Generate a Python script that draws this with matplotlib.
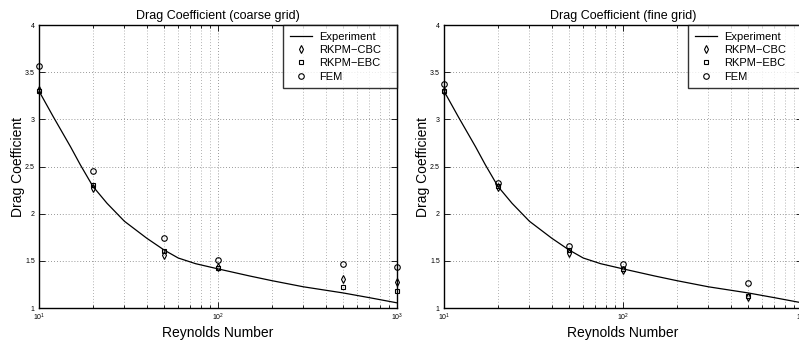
"""Drag coefficient vs Reynolds number, coarse and fine grid comparison."""

import matplotlib

matplotlib.use("Agg")
import matplotlib.pyplot as plt
from matplotlib.ticker import FuncFormatter, LogLocator, MultipleLocator

plt.rcParams["font.family"] = ["Liberation Sans", "DejaVu Sans"]

# experimental curve
re_experiment = [10, 12, 15, 17, 20, 24, 30, 40, 50, 60, 75, 100, 150, 200,
                 300, 500, 700, 1000]
cd_experiment = [3.30, 3.03, 2.71, 2.52, 2.29, 2.11, 1.92, 1.74, 1.615, 1.53,
                 1.47, 1.415, 1.34, 1.29, 1.225, 1.16, 1.11, 1.055]

# coarse grid results
re_coarse = [10, 20, 50, 100, 500, 1000]
coarse_cbc = [3.31, 2.27, 1.56, 1.43, 1.31, 1.28]
coarse_ebc = [3.30, 2.30, 1.60, 1.42, 1.22, 1.18]
coarse_fem = [3.57, 2.45, 1.74, 1.51, 1.47, 1.43]

# fine grid results
re_fine = [10, 20, 50, 100, 500]
fine_cbc = [3.30, 2.28, 1.58, 1.40, 1.12]
fine_ebc = [3.30, 2.29, 1.61, 1.41, 1.13]
fine_fem = [3.38, 2.33, 1.66, 1.47, 1.26]

MARKER_STYLE = dict(
    linestyle="none", markerfacecolor="none", markeredgecolor="black",
    markersize=4, markeredgewidth=0.8, clip_on=False, zorder=4,
)


def draw_panel(axis, re, cbc, ebc, fem, title):
    axis.plot(re_experiment, cd_experiment, color="black", linewidth=0.9,
              label="Experiment", zorder=3)
    axis.plot(re, cbc, marker="d", label="RKPM\u2212CBC", **MARKER_STYLE)
    axis.plot(re, ebc, marker="s", label="RKPM\u2212EBC",
              **{**MARKER_STYLE, "markersize": 3.5})
    axis.plot(re, fem, marker="o", label="FEM", **MARKER_STYLE)

    axis.set_xscale("log")
    axis.set_xlim(10, 1000)
    axis.set_ylim(1, 4)
    axis.yaxis.set_major_locator(MultipleLocator(0.5))
    axis.xaxis.set_major_locator(LogLocator(base=10))
    axis.xaxis.set_minor_locator(LogLocator(base=10, subs=range(2, 10)))
    axis.yaxis.set_major_formatter(FuncFormatter(lambda v, _: f"{v:g}"))

    axis.grid(True, which="major", linestyle=(0, (1, 2.5)), color="#777777",
              linewidth=0.6)
    axis.grid(True, which="minor", axis="x", linestyle=(0, (1, 2.5)),
              color="#999999", linewidth=0.6)
    axis.tick_params(which="both", direction="in", top=True, right=True,
                     labelsize=5, width=0.6, pad=3)
    axis.tick_params(which="major", length=4)
    axis.tick_params(which="minor", length=2)
    for spine in axis.spines.values():
        spine.set_linewidth(1.0)

    axis.set_title(title, fontsize=9, pad=4)
    axis.set_xlabel("Reynolds Number", fontsize=10, labelpad=2)
    axis.set_ylabel("Drag Coefficient", fontsize=10, labelpad=0)

    legend = axis.legend(loc="upper right", bbox_to_anchor=(0.682, 0, 0.318, 1.0),
                         mode="expand", fontsize=8, frameon=True,
                         fancybox=False, borderaxespad=0, handlelength=2.0,
                         borderpad=0.6, labelspacing=0.3, handletextpad=0.6)
    legend.get_frame().set_edgecolor("black")
    legend.get_frame().set_linewidth(1.0)


figure = plt.figure(figsize=(7.99, 3.43), dpi=100)
left = figure.add_axes([0.0488, 0.102, 0.448, 0.825])
right = figure.add_axes([0.5557, 0.102, 0.448, 0.825])

draw_panel(left, re_coarse, coarse_cbc, coarse_ebc, coarse_fem,
           "Drag Coefficient (coarse grid)")
draw_panel(right, re_fine, fine_cbc, fine_ebc, fine_fem,
           "Drag Coefficient (fine grid)")

figure.savefig("out.png", dpi=100)
